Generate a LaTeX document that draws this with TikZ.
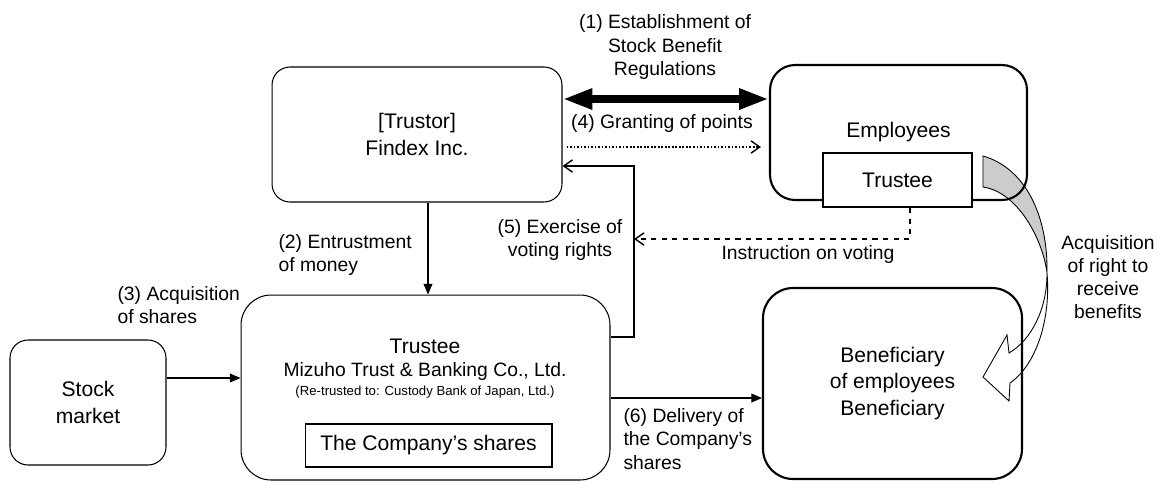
\documentclass[tikz,border=0pt]{standalone}
\usepackage{fontspec}
\setmainfont{Liberation Sans}
\usetikzlibrary{arrows.meta, backgrounds}

\begin{document}
\begin{tikzpicture}[
            x = 0.02cm, y = -0.02cm, % one unit per pixel, y going down
            > = {Triangle[length=6pt, width=5pt]}, % arrow head style
            line width = 0.6pt, % line style
            font = \fontsize{11}{13.5}\selectfont
        ]

        \tikzstyle{thinbox}=[
            draw = black,
            rounded corners = 0.36cm,
            align = center,
            font = \fontsize{12}{15}\selectfont
        ]
        \tikzstyle{thickbox}=[thinbox, line width = 1.2pt, rounded corners = 0.5cm]
        \tikzstyle{openhead}=[-{Straight Barb[length=5pt, width=7pt, line width=0.8pt]}]
        \tikzstyle{lbl}=[align = center, inner sep = 0pt]

        \useasboundingbox (0,0) rectangle (1158,481);

        % boxes
        \node[thinbox, minimum width=5.8cm, minimum height=2.7cm] (trustor) at (417,134.5) {[Trustor]\\Findex Inc.};
        \node[thickbox, minimum width=5.14cm, minimum height=2.7cm] (employees) at (898.5,132.5) {Employees};
        \node[draw, fill=white, line width=1.2pt, minimum width=2.98cm, minimum height=1.08cm, font=\fontsize{12}{15}\selectfont] (emptrustee) at (897.5,180) {Trustee};
        \node[thickbox, rounded corners=0.6cm, minimum width=5.18cm, minimum height=3.82cm] (beneficiary) at (892.5,383.5) {Beneficiary\\of employees\\Beneficiary};
        \node[thinbox, rounded corners=0.6cm, minimum width=7.38cm, minimum height=3.7cm] (trustee) at (425.5,387.5) {};
        \node[font=\fontsize{12}{15}\selectfont] (trusteehead) at (425,346) {Trustee};
        \node (trusteename) at (425,371) {Mizuho Trust \& Banking Co., Ltd.};
        \node[font=\fontsize{7.5}{9}\selectfont] (retrust) at (425,392) {(Re-trusted to: Custody Bank of Japan, Ltd.)};
        \node[draw, minimum width=4.94cm, minimum height=0.86cm, font=\fontsize{12}{15}\selectfont] (shares) at (428.5,445.5) {The Company's shares};
        \node[thinbox, minimum width=3.12cm, minimum height=2.5cm] (stock) at (88,402.5) {Stock\\market};

        % levels of the connectors
        \coordinate (rowA) at (0,99);
        \coordinate (rowB) at (0,147);
        \coordinate (rowC) at (634,166);
        \coordinate (colD) at (428,0);
        \coordinate (rowE) at (0,378);
        \coordinate (rowF) at (0,337);
        \coordinate (rowG) at (910,239);
        \coordinate (rowH) at (0,398);

        \draw[line width=4.5pt, {Triangle[length=17pt, width=11pt]}-{Triangle[length=17pt, width=11pt]}] (trustor.east |- rowA) -- (employees.west |- rowA);
        \draw[line width=1pt, dash pattern=on 1pt off 1pt, openhead, shorten <=0.08cm, shorten >=0.16cm] (trustor.east |- rowB) -- (employees.west |- rowB);
        \draw[->] (trustor.south -| colD) -- (trustee.north -| colD);
        \draw[->] (stock.east |- rowE) -- (trustee.west |- rowE);
        \draw[openhead] (trustee.east |- rowF) -| (rowC) -- (trustor.east |- rowC);
        \draw[dashed, openhead] (emptrustee.south -| rowG) |- (rowC |- rowG);
        \draw[->] (trustee.east |- rowH) -- (beneficiary.west |- rowH);

        % labels
        \node[lbl] (l1) at (665,47) {(1) Establishment of\\Stock Benefit\\Regulations};
        \node[lbl] (l4) at (662,123) {(4) Granting of points};
        \node[lbl, align=left, anchor=west] (l2) at (278,255) {(2) Entrustment\\of money};
        \node[lbl, align=left, anchor=west] (l3) at (117,305) {(3) Acquisition\\of shares};
        \node[lbl] (l5) at (560,240) {(5) Exercise of\\voting rights};
        \node[lbl] (lvote) at (808,254) {Instruction on voting};
        \node[lbl, align=left, anchor=west] (l6) at (623,439) {(6) Delivery of\\the Company's\\shares};
        \node[lbl, font=\fontsize{11}{13}\selectfont] (lright) at (1108,277) {Acquisition\\of right to\\receive\\benefits};

        % curved block arrow
        \begin{scope}[on background layer]
            \draw[fill=gray!40, line width=0.5pt] (983,156) .. controls (1025,168) and (1048,215) .. (1047,273) .. controls (1043,240) and (1018,192) .. (983,187) -- cycle;
            \draw[fill=white, line width=0.5pt] (1047,273) .. controls (1047,310) and (1031,340) .. (1009,353) -- (1007,335) -- (983,377) -- (1009,401) -- (1010,383) .. controls (1036,365) and (1051,320) .. (1047,273) -- cycle;
        \end{scope}

    \end{tikzpicture}
\end{document}
